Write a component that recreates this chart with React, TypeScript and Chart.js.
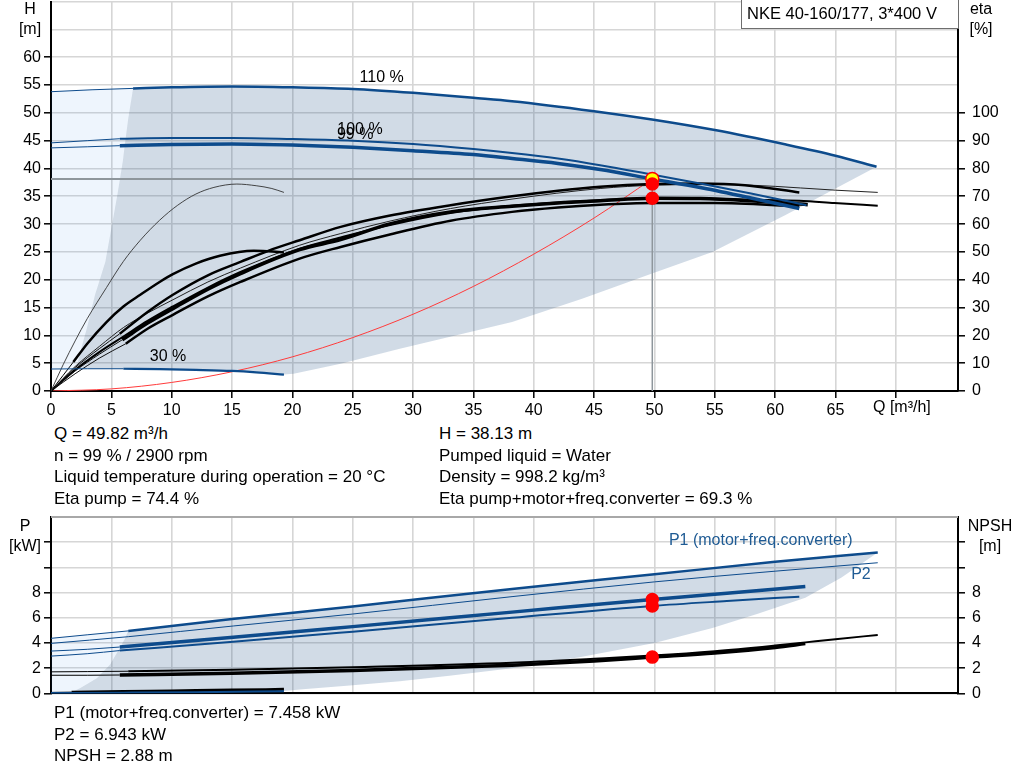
import React, { useEffect, useRef } from 'react';
import { Chart, registerables } from 'chart.js';
Chart.register(...registerables);

const FONT = "Arial, 'Liberation Sans', Helvetica, sans-serif";
const BLUE = '#0d4b8c';
const LABEL_BLUE = '#1f5b94';
const GRID = '#d6d6d6';
const AREA_DARK = 'rgba(24, 74, 130, 0.2)';
const AREA_LIGHT = 'rgba(24, 120, 230, 0.075)';
const HEAD_OFF = 15; // canvas offset of the head chart (auto label padding)

// ---------- operating point ----------
const opQ = 49.82;
const opH = 38.13;
const opEtaPump = 74.4;
const opEtaTotal = 69.3;
const opP1 = 7.458;
const opP2 = 6.943;
const opNPSH = 2.88;

// ---------- head curves (Q m3/h, H m) ----------
const qH110Thin = [0, 3.4, 6.8];
const h110Thin = [53.8, 54.15, 54.4];
const qH110 = [6.8, 10, 15, 20, 25, 30, 35, 38.2, 45, 49.8, 55, 60.9, 65, 68.4];
const h110 = [54.4, 54.6, 54.75, 54.6, 54.3, 53.6, 52.7, 52.1, 50.3, 48.8, 46.9, 44.3, 42.3, 40.3];

const qH100Thin = [0, 3, 5.7];
const h100Thin = [44.6, 45.0, 45.35];
const qH100 = [5.7, 10, 15, 20, 25, 30, 35, 38.2, 42, 45.5, 49.8, 54, 58, 62.6];
const h100 = [45.35, 45.5, 45.5, 45.3, 45.0, 44.4, 43.5, 42.8, 41.8, 40.6, 38.9, 37.2, 35.5, 33.4];

const qH99Thin = [0, 3, 5.7];
const h99Thin = [43.7, 43.9, 44.1];
const qH99 = [5.7, 10, 15, 20, 25, 30, 35, 38.2, 42, 45.5, 49.82, 54, 58, 62];
const h99 = [44.1, 44.3, 44.4, 44.2, 43.8, 43.2, 42.5, 41.8, 40.9, 39.8, 38.13, 36.5, 34.7, 32.8];

const qH30Thin = [0, 3, 6];
const h30Thin = [3.95, 4.0, 4.0];
const qH30 = [6, 9, 12, 15, 17, 19.3];
const h30 = [4.0, 3.95, 3.8, 3.6, 3.35, 2.95];

// system curve
const qSys = [0, 5, 10, 15, 20, 25, 30, 35, 40, 45, 49.82];
const hSys = [0, 0.38, 1.54, 3.46, 6.14, 9.6, 13.8, 18.8, 24.6, 31.1, 38.13];

// areas (head chart)
const qLight = [0, 0, 3.4, 6.8, 6.4, 6.1, 5.95, 5.5, 4.5, 3.65, 2.96, 2.5, 2.1, 0];
const hLight = [3.95, 53.8, 54.15, 54.4, 49, 44, 41.3, 35.3, 23.2, 17.3, 11.2, 7.6, 4.0, 3.95];
const qDark = [6.8, 10, 15, 20, 25, 30, 35, 38.2, 45, 49.8, 55, 60.9, 65, 68.4, 60.9, 54.8, 49.8, 44, 38.2, 28.9, 24, 20.1, 19.3, 17, 15, 12, 9, 6, 3, 2.1, 2.5, 2.96, 3.65, 4.5, 5.5, 5.95, 6.1, 6.4, 6.8];
const hDark = [54.4, 54.6, 54.75, 54.6, 54.3, 53.6, 52.7, 52.1, 50.3, 48.8, 46.9, 44.3, 42.3, 40.3, 31.7, 25.0, 21.1, 16.6, 12.4, 7.6, 4.9, 3.1, 2.95, 3.35, 3.6, 3.8, 3.95, 4.0, 4.0, 4.0, 7.6, 11.2, 17.3, 23.2, 35.3, 41.3, 44, 49, 54.4];

// ---------- efficiency curves (Q m3/h, eta %) ----------
const qEtaLow1 = [0, 1, 2, 3, 4.6, 6, 7.4, 9, 10.5, 12, 13.5, 15.4, 17, 18.3, 19.3];
const etaLow1 = [0, 9.4, 18, 26, 37.2, 46.6, 54.2, 61.4, 66.8, 70.8, 73.2, 74.4, 73.8, 72.8, 71.4];
const qEtaLow2Thin = [0, 1, 1.85];
const etaLow2Thin = [0, 5.6, 10.4];
const qEtaLow2 = [1.85, 3, 4.6, 6, 7.4, 9, 10.1, 12, 14, 16.8, 18, 19.3];
const etaLow2 = [10.4, 17, 24.8, 30.4, 34.6, 39.2, 42, 45.8, 48.6, 50.4, 50.2, 49.8];

const qEtaPump99Thin = [0, 2, 4, 5.7];
const etaPump99Thin = [0, 8.4, 15.2, 20.6];
const qEtaPump99 = [5.7, 8, 10.1, 13, 15.7, 18, 20.6, 24, 28, 33.1, 38.2, 42, 45.5, 49.82, 53.8, 57.5, 62];
const etaPump99 = [20.6, 28.4, 34.6, 41.6, 46.4, 50.4, 54.2, 59, 63, 66.8, 70, 72, 73.4, 74.4, 74.6, 74, 71.4];

const qEtaPump100 = [0, 2, 4, 6, 8, 10.1, 13, 15.7, 20.6, 24, 28, 33.1, 38.2, 45.5, 50, 53.8, 58, 62.1, 65, 68.5];
const etaPump100 = [0, 8.8, 16, 22.8, 28, 32.8, 39.2, 44.2, 52.4, 56.6, 61, 65.6, 69, 72.8, 74, 74.2, 74, 73, 72.2, 71.4];

const qEtaTot99Thin = [0, 2, 4, 5.9];
const etaTot99Thin = [0, 7.2, 13.2, 18.4];
const qEtaTot99 = [5.9, 8, 10.1, 13, 15.7, 20.6, 24, 28, 33.1, 38.2, 42, 45.5, 49.82, 53.8, 58, 62.7];
const etaTot99 = [18.4, 24.4, 29.6, 36.6, 42.2, 50.8, 54.4, 60, 64.4, 66.4, 67.6, 68.4, 69.3, 69.2, 68.4, 67];

const qEtaTot100 = [0, 2, 4, 6, 8, 10.1, 13, 15.7, 20.6, 24, 28, 33.1, 38.2, 45.5, 49.8, 54, 58, 62, 64.9, 68.5];
const etaTot100 = [0, 7.6, 14, 19.6, 25.2, 30.4, 37.2, 42.8, 51.2, 55.2, 59.6, 64, 66.6, 68.6, 69.2, 69.2, 68.8, 68.4, 67.6, 66.6];

const qEtaMot99Thin = [0, 2, 4, 6.2];
const etaMot99Thin = [0, 6.2, 11.8, 17];
const qEtaMot99 = [6.2, 8, 10.1, 13, 15.7, 20.6, 24, 28, 33.1, 38.2, 42, 45.5, 49.82, 55, 62];
const etaMot99 = [17, 22.4, 27.4, 34, 39.2, 47.6, 51.8, 56.2, 61.2, 64.4, 66, 67, 67.6, 67.6, 66.4];

// ---------- power / NPSH (Q m3/h, P kW / NPSH m) ----------
const qP1aThin = [0, 3, 6.4];
const p1aThin = [4.37, 4.65, 4.96];
const qP1a = [6.4, 15, 25, 38.2, 50, 60, 68.5];
const p1a = [4.96, 5.9, 6.9, 8.29, 9.45, 10.45, 11.18];
const qP2a = [0, 6.4, 15.1, 25, 38.2, 50, 60, 68.5];
const p2a = [3.97, 4.5, 5.35, 6.3, 7.68, 8.85, 9.7, 10.37];

const qP1bThin = [0, 3, 5.7];
const p1bThin = [3.36, 3.5, 3.68];
const qP1b = [5.7, 15.1, 25, 38.2, 49.82, 56, 62.5];
const p1b = [3.68, 4.45, 5.3, 6.45, 7.458, 7.95, 8.48];
const qP2bThin = [0, 3, 5.7];
const p2bThin = [2.96, 3.15, 3.4];
const qP2b = [5.7, 15.1, 25, 38.2, 49.82, 56, 62];
const p2b = [3.4, 4.1, 4.9, 6.0, 6.943, 7.33, 7.68];

const qP30Thin = [0, 1.7];
const p30Thin = [0.08, 0.1];
const qP30 = [1.7, 6, 10, 15, 19.3];
const p30 = [0.1, 0.15, 0.2, 0.26, 0.32];
const qP30Blue = [0, 6, 12, 19.3];
const p30Blue = [0.03, 0.06, 0.1, 0.18];

const qNpshAThin = [0, 3, 6.4];
const npshAThin = [1.71, 1.73, 1.76];
const qNpshA = [6.4, 15, 25, 38.2, 45, 49.82, 55, 60, 62.5, 65, 68.5];
const npshA = [1.76, 1.88, 2.08, 2.43, 2.75, 3.0, 3.35, 3.8, 4.05, 4.3, 4.64];
const qNpshBThin = [0, 3, 5.7];
const npshBThin = [1.44, 1.44, 1.46];
const qNpshB = [5.7, 15, 25, 38.2, 45, 49.82, 55, 60, 62.5];
const npshB = [1.46, 1.6, 1.82, 2.24, 2.58, 2.88, 3.2, 3.65, 3.95];

const qPLight = [0, 0, 3, 6.4, 6.1, 5.7, 4.9, 3.8, 2.4, 1.7, 0];
const pLight = [0.1, 4.37, 4.65, 4.96, 4.3, 3.6, 2.3, 1.2, 0.4, 0.1, 0.1];
const qPDark = [6.4, 15, 25, 38.2, 50, 60, 68.5, 65.5, 62.5, 58.5, 54.8, 50, 44, 38.2, 33, 28.9, 24.5, 20.6, 19.3, 1.7, 2.4, 3.8, 4.9, 5.7, 6.1, 6.4];
const pDark = [4.96, 5.9, 6.9, 8.29, 9.45, 10.45, 11.18, 9.2, 7.6, 6.3, 5.2, 4.0, 2.9, 2.0, 1.4, 0.96, 0.6, 0.3, 0.2, 0.1, 0.4, 1.2, 2.3, 3.6, 4.3, 4.96];

// ---------- texts ----------
const title = 'NKE 40-160/177, 3*400 V';
const headLabels = [
  { text: '110 %', q: 27.4, h: 56.4 },
  { text: '100 %', q: 25.6, h: 47.0 },
  { text: '99 %', q: 25.2, h: 46.1 },
  { text: '30 %', q: 9.7, h: 6.1 },
];
const powerLabels = [
  { text: 'P1 (motor+freq.converter)', q: 51.2, p: 12.15 },
  { text: 'P2', q: 66.3, p: 9.45 },
];
const infoLeft = [
  'Q = 49.82 m³/h',
  'n = 99 % / 2900 rpm',
  'Liquid temperature during operation = 20 °C',
  'Eta pump = 74.4 %',
];
const infoRight = [
  'H = 38.13 m',
  'Pumped liquid = Water',
  'Density = 998.2 kg/m³',
  'Eta pump+motor+freq.converter = 69.3 %',
];
const infoPower = [
  'P1 (motor+freq.converter) = 7.458 kW',
  'P2 = 6.943 kW',
  'NPSH = 2.88 m',
];

// ---------- helpers ----------
const xy = (q: number[], v: number[]) => q.map((x, i) => ({ x, y: v[i] }));

function curve(q: number[], v: number[], color: string, width: number, axis = 'y', order = 5, smooth = true): any {
  return {
    data: xy(q, v),
    borderColor: color,
    borderWidth: width,
    yAxisID: axis,
    pointRadius: 0,
    fill: false,
    order,
    tension: 0,
    cubicInterpolationMode: smooth ? 'monotone' : 'default',
    borderCapStyle: 'butt',
  };
}
function area(q: number[], v: number[], color: string, axis = 'y'): any {
  return {
    data: xy(q, v),
    borderWidth: 0,
    borderColor: 'rgba(0,0,0,0)',
    backgroundColor: color,
    fill: 'shape',
    pointRadius: 0,
    yAxisID: axis,
    order: 20,
    tension: 0,
  };
}
function marker(q: number, v: number, bg: string, border: string, r: number, axis: string, order: number): any {
  return {
    data: [{ x: q, y: v }],
    showLine: false,
    pointRadius: r,
    pointBackgroundColor: bg,
    pointBorderColor: border,
    pointBorderWidth: 1.5,
    yAxisID: axis,
    order,
  };
}

const tickFont = { family: FONT, size: 16 };

function xScale(showLabels: boolean, height: number): any {
  return {
    type: 'linear',
    min: 0,
    max: 75.15,
    afterBuildTicks: (s: any) => {
      s.ticks = s.ticks.filter((t: any) => t.value <= 70);
    },
    ticks: {
      display: showLabels,
      stepSize: 5,
      autoSkip: false,
      maxRotation: 0,
      padding: 3,
      color: '#000',
      font: tickFont,
      callback: (v: any) => (v <= 65 ? String(v) : ''),
    },
    grid: { color: GRID, lineWidth: 1.6, drawTicks: showLabels, tickLength: 7, tickColor: '#000', tickWidth: 1.5 },
    border: { display: true, color: '#000', width: 2 },
    afterFit: (s: any) => {
      s.height = height;
    },
  };
}

function yScale(position: string, max: number, step: number, labelMax: number, tickMax: number, width: number, onArea: boolean, pad: number): any {
  return {
    type: 'linear',
    position,
    min: 0,
    max,
    ticks: {
      stepSize: step,
      padding: pad,
      color: '#000',
      font: tickFont,
      autoSkip: false,
      callback: (v: any) => (v <= labelMax ? String(v) : ''),
    },
    grid: {
      drawOnChartArea: onArea,
      color: GRID,
      lineWidth: 1.6,
      tickLength: 7,
      tickWidth: 1.5,
      tickColor: (ctx: any) => (ctx.tick && ctx.tick.value <= tickMax ? '#000' : 'rgba(0,0,0,0)'),
    },
    border: { display: true, color: '#000', width: 2 },
    afterFit: (s: any) => {
      s.width = width;
    },
  };
}

const headTextPlugin = {
  id: 'headText',
  afterDraw(chart: any) {
    const { ctx, scales } = chart;
    const o = HEAD_OFF;
    ctx.save();
    ctx.fillStyle = '#000';
    ctx.font = `16px ${FONT}`;
    ctx.textAlign = 'center';
    ctx.textBaseline = 'middle';
    ctx.fillText('H', 30, 10 + o);
    ctx.fillText('[m]', 30, 30 + o);
    ctx.fillText('eta', 981, 10 + o);
    ctx.fillText('[%]', 981, 30 + o);
    ctx.textAlign = 'left';
    ctx.fillText('Q [m³/h]', 873, 408 + o);
    // title box
    ctx.fillStyle = '#fff';
    ctx.fillRect(741, o, 217, 28);
    ctx.strokeStyle = '#6e6e6e';
    ctx.lineWidth = 1;
    ctx.strokeRect(741.5, o - 1, 217, 29.5);
    ctx.fillStyle = '#000';
    ctx.font = `16.5px ${FONT}`;
    ctx.fillText(title, 747, 14 + o);
    // curve labels
    ctx.font = `16px ${FONT}`;
    ctx.textAlign = 'center';
    for (const l of headLabels) {
      ctx.fillText(l.text, scales.x.getPixelForValue(l.q), scales.y.getPixelForValue(l.h));
    }
    ctx.restore();
  },
};

const powerTextPlugin = {
  id: 'powerText',
  afterDraw(chart: any) {
    const { ctx, scales, chartArea } = chart;
    ctx.save();
    ctx.strokeStyle = '#a8a8a8';
    ctx.lineWidth = 2;
    ctx.beginPath();
    ctx.moveTo(chartArea.left, chartArea.top);
    ctx.lineTo(chartArea.right, chartArea.top);
    ctx.stroke();
    ctx.fillStyle = '#000';
    ctx.font = `16px ${FONT}`;
    ctx.textAlign = 'center';
    ctx.textBaseline = 'middle';
    ctx.fillText('P', 25, 27);
    ctx.fillText('[kW]', 25, 47);
    ctx.fillText('NPSH', 990, 27);
    ctx.fillText('[m]', 990, 47);
    ctx.fillStyle = LABEL_BLUE;
    ctx.textAlign = 'left';
    for (const l of powerLabels) {
      ctx.fillText(l.text, scales.x.getPixelForValue(l.q), scales.y.getPixelForValue(l.p));
    }
    ctx.restore();
  },
};

function headConfig(): any {
  const datasets = [
    area(qLight, hLight, AREA_LIGHT),
    area(qDark, hDark, AREA_DARK),
    curve(qH110Thin, h110Thin, BLUE, 1),
    curve(qH110, h110, BLUE, 2.5),
    curve(qH100Thin, h100Thin, BLUE, 1),
    curve(qH100, h100, BLUE, 2),
    curve(qH99Thin, h99Thin, BLUE, 1),
    curve(qH99, h99, BLUE, 3.5),
    curve(qH30Thin, h30Thin, BLUE, 1),
    curve(qH30, h30, BLUE, 2.2),
    curve(qSys, hSys, '#ff3b3b', 1, 'y', 6),
    curve([0, opQ], [opH, opH], '#8e969c', 2, 'y', 7, false),
    curve([opQ, opQ], [opH, 0], '#8e969c', 1.5, 'y', 7, false),
    curve(qEtaLow1, etaLow1, '#333', 0.9, 'eta'),
    curve(qEtaLow2Thin, etaLow2Thin, '#000', 1, 'eta'),
    curve(qEtaLow2, etaLow2, '#000', 2.5, 'eta'),
    curve(qEtaPump99Thin, etaPump99Thin, '#111', 1, 'eta'),
    curve(qEtaPump99, etaPump99, '#000', 2.5, 'eta'),
    curve(qEtaPump100, etaPump100, '#222', 1, 'eta'),
    curve(qEtaTot99Thin, etaTot99Thin, '#111', 1, 'eta'),
    curve(qEtaTot99, etaTot99, '#000', 3.5, 'eta'),
    curve(qEtaTot100, etaTot100, '#000', 2, 'eta'),
    curve(qEtaMot99Thin, etaMot99Thin, '#111', 1, 'eta'),
    curve(qEtaMot99, etaMot99, '#000', 2.5, 'eta'),
    marker(opQ, opH, '#ffff00', '#ff0000', 6.5, 'y', 2),
    marker(opQ, opEtaPump, '#ff0000', '#ff0000', 6, 'eta', 1),
    marker(opQ, opEtaTotal, '#ff0000', '#ff0000', 6, 'eta', 1),
  ];
  return {
    type: 'line',
    data: { datasets },
    options: {
      responsive: false,
      animation: false,
      devicePixelRatio: 1,
      events: [],
      layout: { padding: { top: 0, left: 0, right: 0, bottom: 0 } },
      plugins: { legend: { display: false }, tooltip: { enabled: false } },
      scales: {
        x: xScale(true, 31),
        y: yScale('left', 70, 5, 60, 60, 51, true, 3),
        eta: yScale('right', 140, 10, 100, 100, 66, false, 7),
      },
    },
    plugins: [headTextPlugin],
  };
}

function powerConfig(): any {
  const datasets = [
    area(qPLight, pLight, AREA_LIGHT),
    area(qPDark, pDark, AREA_DARK),
    curve(qP1aThin, p1aThin, BLUE, 1),
    curve(qP1a, p1a, BLUE, 2.5),
    curve(qP2a, p2a, BLUE, 1),
    curve(qP1bThin, p1bThin, BLUE, 1),
    curve(qP1b, p1b, BLUE, 3.5),
    curve(qP2bThin, p2bThin, BLUE, 1),
    curve(qP2b, p2b, BLUE, 2),
    curve(qP30Blue, p30Blue, BLUE, 2),
    curve(qP30Thin, p30Thin, '#000', 1),
    curve(qP30, p30, '#000', 3),
    curve(qNpshAThin, npshAThin, '#000', 1, 'npsh'),
    curve(qNpshA, npshA, '#000', 2, 'npsh'),
    curve(qNpshBThin, npshBThin, '#000', 1, 'npsh'),
    curve(qNpshB, npshB, '#000', 3.5, 'npsh'),
    marker(opQ, opP1, '#ff0000', '#ff0000', 6, 'y', 1),
    marker(opQ, opP2, '#ff0000', '#ff0000', 6, 'y', 1),
    marker(opQ, opNPSH, '#ff0000', '#ff0000', 6, 'npsh', 1),
  ];
  return {
    type: 'line',
    data: { datasets },
    options: {
      responsive: false,
      animation: false,
      devicePixelRatio: 1,
      events: [],
      layout: { padding: { top: 17, left: 0, right: 0, bottom: 0 } },
      plugins: { legend: { display: false }, tooltip: { enabled: false } },
      scales: {
        x: xScale(false, 8),
        y: yScale('left', 14, 2, 8, 12, 51, true, 3),
        npsh: yScale('right', 14, 2, 8, 12, 66, false, 7),
      },
    },
    plugins: [powerTextPlugin],
  };
}

const textStyle = (left: number, top: number): React.CSSProperties => ({
  position: 'absolute',
  left,
  top,
  font: `17px ${FONT}`,
  lineHeight: '20px',
  color: '#000',
  whiteSpace: 'nowrap',
});

export default function App() {
  const headRef = useRef<HTMLCanvasElement>(null);
  const powerRef = useRef<HTMLCanvasElement>(null);

  useEffect(() => {
    const c1 = new Chart(headRef.current as HTMLCanvasElement, headConfig());
    const c2 = new Chart(powerRef.current as HTMLCanvasElement, powerConfig());
    return () => {
      c1.destroy();
      c2.destroy();
    };
  }, []);

  return (
    <div style={{ position: 'absolute', left: 0, top: 0, width: 1024, height: 781, background: '#fff', overflow: 'hidden' }}>
      <canvas ref={headRef} width={1024} height={437} style={{ position: 'absolute', left: 0, top: -HEAD_OFF }} />
      <canvas ref={powerRef} width={1024} height={210} style={{ position: 'absolute', left: 0, top: 500 }} />
      {infoLeft.map((t, i) => (
        <div key={'l' + i} style={textStyle(54, 424 + i * 21.6)}>{t}</div>
      ))}
      {infoRight.map((t, i) => (
        <div key={'r' + i} style={textStyle(439, 424 + i * 21.6)}>{t}</div>
      ))}
      {infoPower.map((t, i) => (
        <div key={'p' + i} style={textStyle(54, 703 + i * 21.7)}>{t}</div>
      ))}
    </div>
  );
}
